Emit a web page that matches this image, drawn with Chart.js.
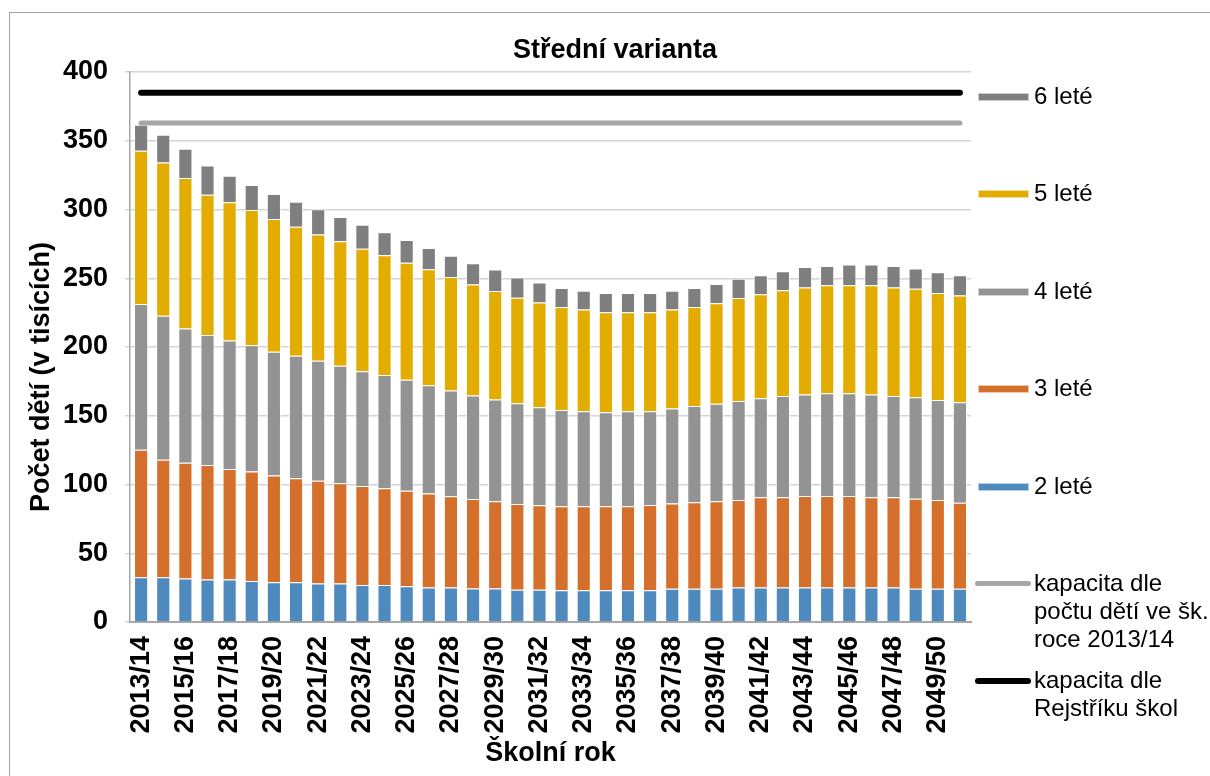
<!DOCTYPE html>
<html lang="cs">
<head>
<meta charset="utf-8">
<title>Střední varianta</title>
<script src="https://cdn.jsdelivr.net/npm/chart.js@4.4.1/dist/chart.umd.min.js"></script>
<style>
  html, body { margin: 0; padding: 0; background: #fff; overflow: hidden; }
  body { width: 1210px; height: 776px; position: relative; font-family: "Liberation Sans", Arial, sans-serif; color: #000; }
  #frame { position: absolute; left: 9px; top: 12px; width: 1400px; height: 1000px; border-left: 1px solid #a0a0a0; border-top: 1px solid #a0a0a0; }
  #wrap { position: absolute; left: 10px; top: 0; width: 1210px; height: 776px; }
  #title { position: absolute; left: 415px; top: 33px; width: 400px; line-height: 32px; text-align: center;
           font-weight: bold; font-size: 27px; white-space: nowrap; }
  #yTitle { position: absolute; left: -160px; top: 361px; width: 400px; height: 32px; line-height: 32px; text-align: center;
            font-weight: bold; font-size: 27px; transform: rotate(-90deg); white-space: nowrap; }
  #legend { position: absolute; left: 0; top: 0; }
  .item { position: absolute; left: 975px; width: 235px; }
  .swatch { position: absolute; left: 3px; top: 11px; width: 51px; height: 8px; box-sizing: border-box; }
  .swatch.line { left: 0; top: 12px; width: 56px; height: 5px; border-radius: 3px; }
  .text { position: absolute; left: 59px; top: 0; font-size: 24px; line-height: 28px; white-space: pre; }
</style>
</head>
<body>
<div id="frame"></div>
<div id="wrap"><canvas id="chart" width="1210" height="776"></canvas></div>
<div id="title">Střední varianta</div>
<div id="yTitle">Počet dětí (v tisících)</div>
<div id="legend"></div>
<script>
const years = [
  "2013/14", "2014/15", "2015/16", "2016/17", "2017/18", "2018/19", "2019/20", "2020/21",
  "2021/22", "2022/23", "2023/24", "2024/25", "2025/26", "2026/27", "2027/28", "2028/29",
  "2029/30", "2030/31", "2031/32", "2032/33", "2033/34", "2034/35", "2035/36", "2036/37",
  "2037/38", "2038/39", "2039/40", "2040/41", "2041/42", "2042/43", "2043/44", "2044/45",
  "2045/46", "2046/47", "2047/48", "2048/49", "2049/50", "2050/51",
];

// počty dětí v tisících podle věku
const deti2 = [32.6, 32.6, 31.6, 30.9, 30.9, 29.9, 29.0, 29.0, 28.0, 28.0, 27.0, 27.0, 26.0, 25.1, 25.1, 24.4, 24.4, 23.4, 23.4,
  23.1, 23.1, 23.1, 23.1, 23.1, 24.1, 24.1, 24.1, 25.1, 25.1, 25.1, 25.1, 25.1, 25.1, 25.1, 25.1, 24.1, 24.1, 24.1];
const deti3 = [92.7, 85.4, 84.2, 83.2, 80.3, 79.5, 77.5, 75.6, 74.7, 73.0, 72.0, 70.3, 69.4, 68.4, 66.4, 65.1, 63.4, 62.5, 61.5,
  61.1, 61.1, 61.1, 61.1, 62.0, 62.0, 63.0, 63.7, 63.7, 65.6, 65.6, 66.6, 66.6, 66.6, 65.6, 65.6, 65.6, 64.7, 62.7];
const deti4 = [106.0, 104.8, 97.7, 94.6, 93.6, 91.8, 90.0, 89.0, 87.3, 85.3, 83.4, 82.4, 80.7, 78.7, 76.8, 75.2, 74.0, 73.2, 71.2,
  70.0, 69.0, 68.3, 69.0, 68.1, 69.1, 70.0, 71.0, 72.0, 72.0, 73.7, 73.7, 74.7, 74.7, 74.7, 73.7, 73.7, 72.7, 73.0];
const deti5 = [111.4, 111.4, 109.5, 102.1, 100.5, 98.5, 96.6, 93.9, 91.9, 90.7, 89.0, 87.1, 85.1, 84.4, 82.7, 80.7, 79.0, 76.8, 76.2,
  74.9, 74.0, 72.7, 72.0, 72.0, 72.0, 72.0, 73.0, 74.9, 75.7, 76.9, 77.8, 78.6, 78.6, 79.6, 78.8, 78.9, 77.8, 77.6];
const deti6 = [19.0, 20.2, 21.2, 21.2, 19.2, 18.2, 18.2, 18.2, 18.3, 17.5, 17.5, 16.6, 16.6, 15.4, 15.4, 15.6, 15.6, 14.7, 14.6,
  13.9, 13.8, 14.1, 14.1, 14.1, 13.8, 13.9, 14.1, 13.9, 13.8, 13.8, 14.9, 14.0, 15.0, 15.0, 15.8, 14.8, 15.1, 14.8];

// kapacity: vodorovné čáry od prvního do posledního roku
const kapacitaRoky = ["2013/14", "2050/51"];
const kapacita2013 = [363, 363];
const kapacitaRejstrik = [385, 385];

const yTicks = [0, 50, 100, 150, 200, 250, 300, 350, 400];

const FONT = "'Liberation Sans', Arial, sans-serif";

function barSet(label, data, color) {
  return {
    type: "bar", label, data, backgroundColor: color,
    borderColor: "rgba(255,255,255,0.75)", borderWidth: 1,
    barPercentage: 0.64, categoryPercentage: 1, stack: "deti", order: 1,
  };
}

function lineSet(label, values, color, width, stack) {
  return {
    type: "line", label, stack, order: 0,
    data: kapacitaRoky.map((x, i) => ({ x, y: values[i] })),
    borderColor: color, backgroundColor: color, borderWidth: width,
    borderCapStyle: "round", pointRadius: 0, fill: false,
  };
}

const ds2 = barSet("2 leté", deti2, "#4f8abe");
const ds3 = barSet("3 leté", deti3, "#d4702b");
const ds4 = barSet("4 leté", deti4, "#939393");
const ds5 = barSet("5 leté", deti5, "#e2ac00");
const ds6 = barSet("6 leté", deti6, "#7f7f7f");
const dsKap = lineSet("kapacita dle\npočtu dětí ve šk.\nroce 2013/14", kapacita2013, "#a6a6a6", 5, "kap1");
const dsRej = lineSet("kapacita dle\nRejstříku škol", kapacitaRejstrik, "#000000", 6, "kap2");

new Chart(document.getElementById("chart"), {
  data: { labels: years, datasets: [ds2, ds3, ds4, ds5, ds6, dsKap, dsRej] },
  options: {
    responsive: false,
    animation: false,
    layout: { padding: { left: 36, right: 249, top: 72, bottom: 0 } },
    plugins: {
      legend: { display: false },
      tooltip: { enabled: false },
    },
    scales: {
      x: {
        stacked: true,
        grid: { display: false, drawTicks: false },
        border: { color: "#a6a6a6", width: 2 },
        ticks: {
          autoSkip: false, maxRotation: 90, minRotation: 90, padding: 14, color: "#000",
          font: { family: FONT, size: 27, weight: "bold" },
          callback: function (v, i) { return i % 2 === 0 ? this.getLabelForValue(v) : ""; },
        },
        title: {
          display: true, text: "Školní rok", color: "#000",
          font: { family: FONT, size: 27, weight: "bold" },
          padding: { top: -10, bottom: 6 },
        },
      },
      y: {
        stacked: true, min: 0, max: 400,
        afterBuildTicks: (axis) => { axis.ticks = yTicks.map((value) => ({ value })); },
        grid: { color: "#d4d4d4", lineWidth: 1.5, tickLength: 5 },
        border: { color: "#a6a6a6", width: 1.5 },
        ticks: { padding: 17, color: "#000", font: { family: FONT, size: 27, weight: "bold" } },
      },
    },
  },
});

// legenda vpravo, ve stejném pořadí jako v originále
const legendItems = [ds6, ds5, ds4, ds3, ds2, dsKap, dsRej];
const legend = document.getElementById("legend");
legendItems.forEach((ds, i) => {
  const item = document.createElement("div");
  item.className = "item";
  item.style.top = (82 + i * 97.4) + "px";
  const sw = document.createElement("div");
  if (ds.type === "line") {
    sw.className = "swatch line";
    sw.style.background = ds.borderColor;
    sw.style.height = ds.borderWidth + "px";
  } else {
    sw.className = "swatch";
    sw.style.background = ds.backgroundColor;
    sw.style.border = "1px solid rgba(255,255,255,0.6)";
  }
  const tx = document.createElement("div");
  tx.className = "text";
  tx.textContent = ds.label;
  item.appendChild(sw);
  item.appendChild(tx);
  legend.appendChild(item);
});
</script>
</body>
</html>
